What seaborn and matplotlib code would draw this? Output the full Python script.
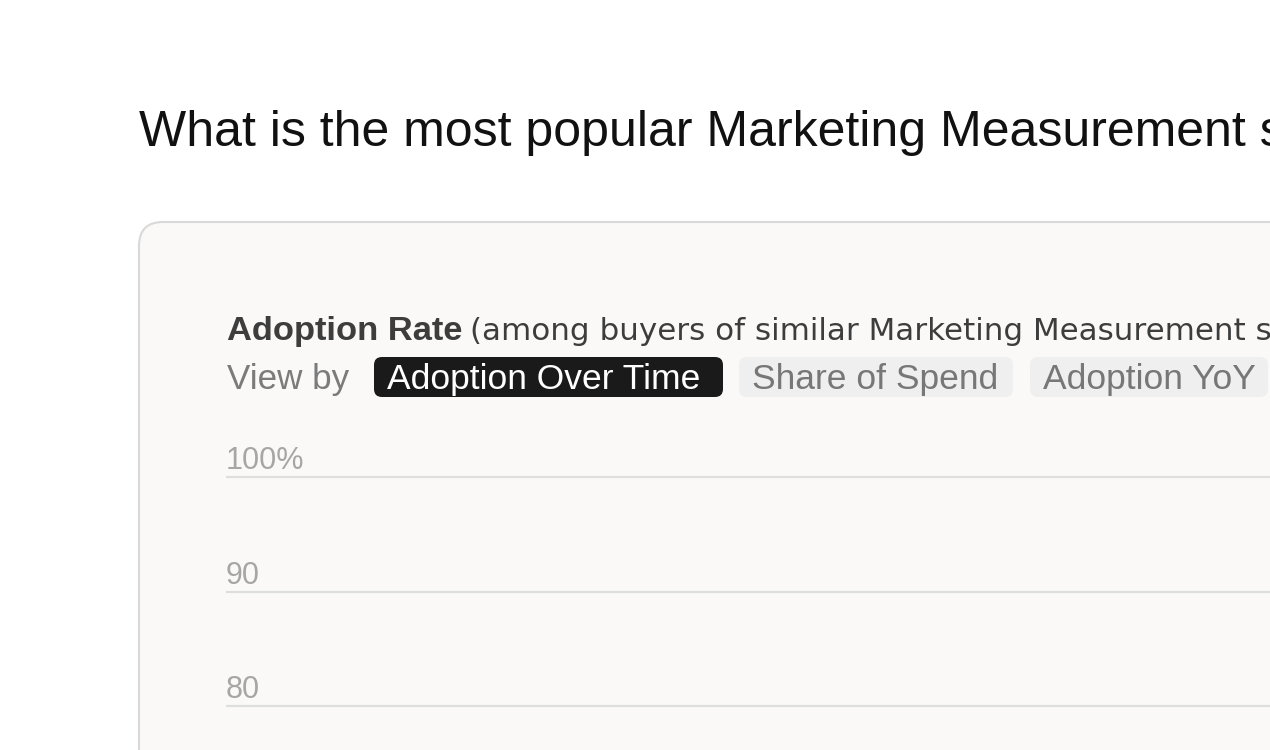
import matplotlib
matplotlib.use("Agg")
import matplotlib.pyplot as plt
import matplotlib.transforms as mtransforms
from matplotlib.patches import FancyBboxPatch
import seaborn as sns

# Chart content (text is cut off at the right edge in the source)
title = "What is the most popular Marketing Measurement s"
subtitle_bold = "Adoption Rate"
subtitle_rest = "(among buyers of similar Marketing Measurement s"
view_label = "View by"
view_options = ["Adoption Over Time", "Share of Spend", "Adoption YoY"]
tick_values = [80, 90, 100]
tick_labels = ["80", "90", "100%"]
y_limits = (76.16, 103.23)

W, H = 1270, 750
sns.set_theme(style="white")
plt.rcParams["font.family"] = ["Liberation Sans", "DejaVu Sans"]

fig = plt.figure(figsize=(W / 100, H / 100), dpi=100, facecolor="white")

def fx(px):
    return px / W

def fy(py):
    return 1 - py / H

pix = mtransforms.IdentityTransform()

# card behind the chart (runs off the right and bottom edges)
card = FancyBboxPatch((139, -60), 1300, (H - 222) + 60,
                      boxstyle="round,pad=0,rounding_size=24",
                      transform=pix, facecolor="#faf9f8", edgecolor="#d9d9d9",
                      linewidth=1.5, zorder=0)
fig.patches.append(card)

fig.text(fx(139), fy(146), title, fontsize=36, color="#111111", va="baseline")

fig.text(fx(227), fy(340), subtitle_bold, fontsize=24.8, fontweight="bold",
         color="#3d3d3d", va="baseline")
fig.text(fx(470), fy(340), subtitle_rest, fontsize=22.3, color="#3d3d3d",
         va="baseline", family="DejaVu Sans")

fig.text(fx(227), fy(389), view_label, fontsize=25.2, color="#7b7b7b", va="baseline")

# view selector pills
pill_x = [(374, 723), (739, 1013), (1030, 1268)]
for i, (label, (x0, x1)) in enumerate(zip(view_options, pill_x)):
    active = i == 0
    pill = FancyBboxPatch((x0, H - 397), x1 - x0, 40,
                          boxstyle="round,pad=0,rounding_size=8", transform=pix,
                          facecolor="#1a1a1a" if active else "#efefef",
                          edgecolor="none", zorder=1)
    fig.patches.append(pill)
    fig.text(fx(x0 + 13), fy(389), label, fontsize=25.5,
             color="white" if active else "#777777", va="baseline", zorder=3)

# chart area
ax = fig.add_axes([fx(226), 0, 1 - fx(226), fy(440)])
ax.set_zorder(2)
ax.patch.set_alpha(0)
ax.set_ylim(*y_limits)
ax.set_xlim(0, 1)
ax.set_yticks(tick_values)
ax.set_xticks([])
ax.tick_params(axis="y", length=0, labelleft=False)
ax.yaxis.grid(True, color="#dedede", linewidth=1.6)
sns.despine(ax=ax, left=True, bottom=True)

label_tf = mtransforms.offset_copy(ax.get_yaxis_transform(), fig=fig, x=0, y=8, units="dots")
for v, lab in zip(tick_values, tick_labels):
    ax.text(0.0, v, lab, transform=label_tf, fontsize=22, color="#a6a6a6",
            ha="left", va="baseline")

fig.savefig("out.png", dpi=100, facecolor="white")
